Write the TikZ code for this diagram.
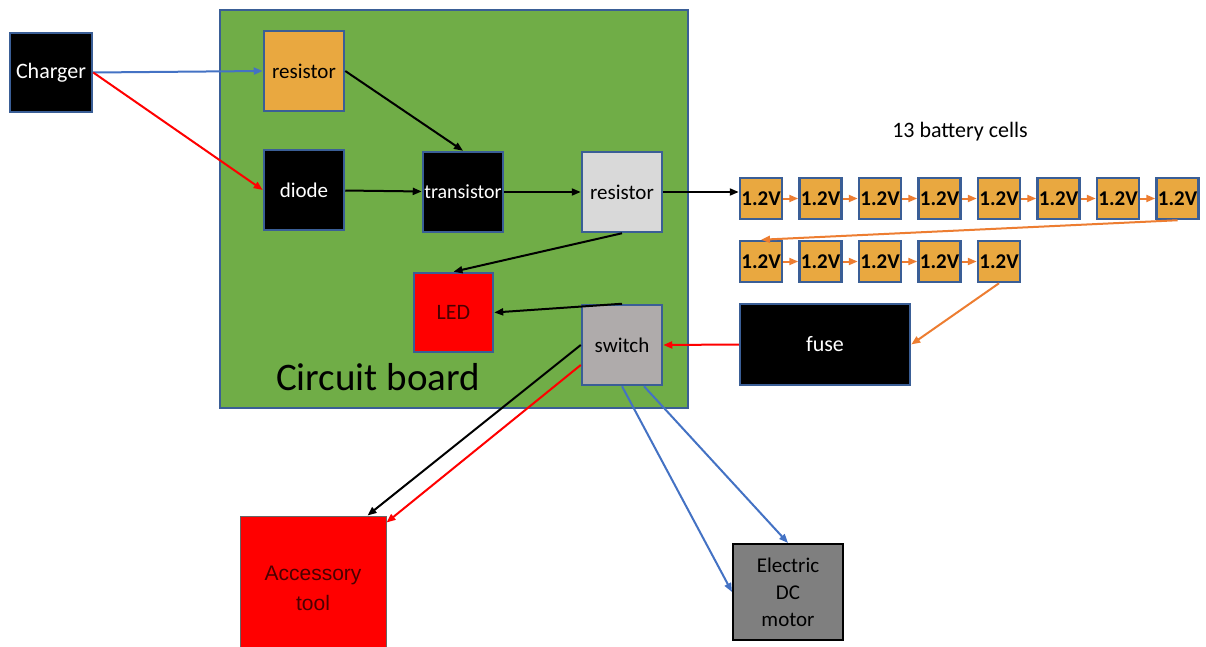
\documentclass[tikz,border=0pt]{standalone}
\usepackage{fontspec}
\setmainfont{Carlito}
\newfontfamily\arialfont{Liberation Sans}
\usetikzlibrary{arrows.meta}
\definecolor{boardgreen}{RGB}{112,173,71}
\definecolor{edgeblue}{RGB}{58,94,150}
\definecolor{cellorange}{RGB}{233,168,64}
\definecolor{wireorange}{RGB}{237,125,49}
\definecolor{wireblue}{RGB}{68,114,196}
\definecolor{swgrey}{RGB}{175,171,171}
\definecolor{resgrey}{RGB}{217,217,217}
\definecolor{motorgrey}{RGB}{127,127,127}
\definecolor{txtred}{RGB}{75,0,0}
\tikzset{
  box/.style={draw=edgeblue,line width=2.5pt,inner sep=0pt,minimum width=80pt,minimum height=80pt,
    font=\fontsize{21}{23}\selectfont},
  dark/.style={box,fill=black,text=white},
  cell/.style={draw=edgeblue,line width=2.5pt,fill=cellorange,inner sep=0pt,minimum width=42pt,
    minimum height=41pt,font=\bfseries\fontsize{21}{22}\selectfont},
  wire/.style={-{Triangle[length=9pt,width=7pt]},line width=2pt},
}

\begin{document}
\begin{tikzpicture}[x=1pt,y=-1pt]
  \fill[white] (0,0) rectangle (1206,647);
  \useasboundingbox (0,0) rectangle (1206,647);
  % circuit board and its parts
  \node[draw=edgeblue,fill=boardgreen,line width=2.5pt,minimum width=468pt,minimum height=398pt] (board) at (454,209) {};
  \node[font=\fontsize{39}{42}\selectfont] (boardlbl) at (378,377) {Circuit board};
  \node[dark,minimum width=82pt,minimum height=79pt,font=\fontsize{22}{24}\selectfont] (charger) at (51,72.5) {Charger};
  \node[box,fill=cellorange] (res1) at (304,71) {resistor};
  \node[dark] (diode) at (304,190) {diode};
  \node[dark,font=\fontsize{20}{22}\selectfont] (trans) at (463,192) {transistor};
  \node[box,fill=resgrey] (res2) at (622,192) {resistor};
  \node[box,fill=red,text=txtred,minimum width=79pt,minimum height=79pt,font=\fontsize{22}{24}\selectfont] (led) at (453.5,312.5) {LED};
  \node[box,fill=swgrey] (sw) at (622,345) {switch};
  \node[dark,minimum width=170pt,minimum height=81pt,font=\fontsize{22}{24}\selectfont] (fuse) at (825,344.5) {fuse};
  \node[box,draw=black!60,line width=1pt,fill=red,text=txtred,minimum width=146pt,minimum height=144pt,
    align=center,font=\arialfont\fontsize{21}{30}\selectfont] (tool) at (313,588) {Accessory\\tool};
  \node[box,draw=black,line width=2pt,fill=motorgrey,minimum width=110pt,minimum height=96pt,align=center,
    font=\fontsize{21}{27}\selectfont] (motor) at (788,592) {Electric\\DC\\motor};
  % battery cells
  \node[font=\fontsize{22}{24}\selectfont] (cellslbl) at (960,132) {13 battery cells};
  \foreach \i in {1,...,8}
    \node[cell] (c\i) at ({761+59.5*(\i-1)},198.5) {1.2V};
  \foreach \i in {1,...,5}
    \node[cell] (d\i) at ({761+59.5*(\i-1)},261.5) {1.2V};
  \foreach \i [count=\j from 2] in {1,...,7}
    \draw[wire,wireorange] (c\i.east) -- (c\j.west);
  \foreach \i [count=\j from 2] in {1,...,4}
    \draw[wire,wireorange] (d\i.east) -- (d\j.west);
  \draw[wire,wireorange] (c8.south) -- (d1.north);
  \draw[wire,wireorange] (d5.south) -- (fuse.east);
  % wires
  \draw[wire,wireblue] (charger.east) -- (res1.west);
  \draw[wire,red] (charger.east) -- (diode.west);
  \draw[wire] (res1.east) -- (trans.north);
  \draw[wire] (diode) -- (trans);
  \draw[wire] (trans) -- (res2);
  \draw[wire] (res2.east) -- (res2.east -| c1.west);
  \draw[wire] (res2.south) -- (led.north);
  \draw[wire] (sw.north) -- (led.east);
  \draw[wire,red] (fuse.west) -- (sw.east);
  \draw[wire] (sw.west) -- ([xshift=-19pt]tool.north east);
  \draw[wire,red] ([yshift=-20pt]sw.west) -- ([yshift=-7pt]tool.north east);
  \draw[wire,wireblue] (sw.south) -- (motor.west);
  \draw[wire,wireblue] ([xshift=22pt]sw.south) -- (motor.north);
\end{tikzpicture}
\end{document}
